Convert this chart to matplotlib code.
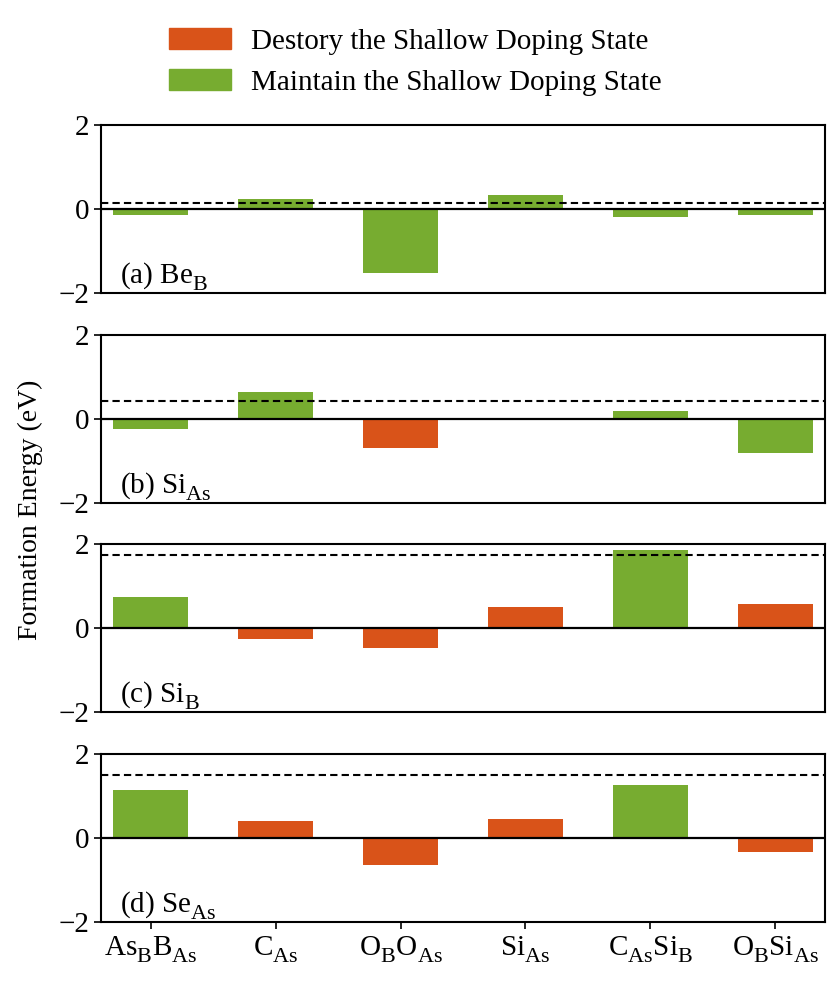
import numpy as np
import matplotlib
matplotlib.use("Agg")
import matplotlib.pyplot as plt
from matplotlib.patches import Patch
import matplotlib._mathtext as _mt

plt.rcParams['font.family'] = ['Liberation Serif', 'DejaVu Serif']
plt.rcParams['mathtext.fontset'] = 'custom'
plt.rcParams['mathtext.rm'] = 'Liberation Serif'
plt.rcParams['mathtext.it'] = 'Liberation Serif:italic'
plt.rcParams['mathtext.bf'] = 'Liberation Serif:bold'


# Larger, lower subscripts (Word/Times-like look)
class _SerifConsts(_mt.FontConstantsBase):
    sub1 = 0.55
    subdrop = 0.5


_mt._font_constant_mapping['Liberation Serif'] = _SerifConsts
_mt.SHRINK_FACTOR = 0.76

categories = [r'As$_\mathrm{B}$B$_\mathrm{As}$', r'C$_\mathrm{As}$', r'O$_\mathrm{B}$O$_\mathrm{As}$',
              r'Si$_\mathrm{As}$', r'C$_\mathrm{As}$Si$_\mathrm{B}$', r'O$_\mathrm{B}$Si$_\mathrm{As}$']

panel_labels = [r'(a) Be$_\mathrm{B}$', r'(b) Si$_\mathrm{As}$', r'(c) Si$_\mathrm{B}$', r'(d) Se$_\mathrm{As}$']

vals_a = [-0.14, 0.25, -1.53, 0.33, -0.18, -0.15]
vals_b = [-0.24, 0.65, -0.70, 0.0, 0.19, -0.82]
vals_c = [0.75, -0.27, -0.47, 0.50, 1.85, 0.57]
vals_d = [1.14, 0.41, -0.65, 0.45, 1.27, -0.33]

# 'M' = maintain (green), 'D' = destroy (orange)
state_a = ['M', 'M', 'M', 'M', 'M', 'M']
state_b = ['M', 'M', 'D', 'M', 'M', 'M']
state_c = ['M', 'D', 'D', 'D', 'M', 'D']
state_d = ['M', 'D', 'D', 'D', 'M', 'D']

dashed_levels = [0.15, 0.42, 1.75, 1.49]

legend_labels = ['Destory the Shallow Doping State', 'Maintain the Shallow Doping State']
ylabel = 'Formation Energy (eV)'

ORANGE = '#D95319'
GREEN = '#77AC30'
cmap = {'D': ORANGE, 'M': GREEN}

W, H = 831, 986
fig = plt.figure(figsize=(W / 100, H / 100), dpi=100)

left, right = 101 / W, 825 / W
tops = [125, 335, 544, 754]
ph = 168

all_vals = [vals_a, vals_b, vals_c, vals_d]
all_states = [state_a, state_b, state_c, state_d]
fs = 21
tfs = 21
x = np.arange(len(categories))
for i in range(4):
    bottom = 1 - (tops[i] + ph) / H
    ax = fig.add_axes([left, bottom, right - left, ph / H])
    ax.bar(x, all_vals[i], width=0.6, color=[cmap[s] for s in all_states[i]], linewidth=0)
    ax.axhline(0, color='black', lw=1.6, zorder=3)
    ax.axhline(dashed_levels[i], color='black', lw=1.5, ls=(0, (3.5, 2)), zorder=3)
    ax.set_xlim(-0.4, 5.4)
    ax.set_ylim(-2, 2)
    ax.set_yticks([-2, 0, 2])
    ax.set_xticks(x)
    for s in ax.spines.values():
        s.set_linewidth(1.5)
    ax.tick_params(axis='y', labelsize=tfs, width=1.2, length=5)
    ax.tick_params(axis='x', labelsize=fs, width=1.2, length=5)
    if i < 3:
        ax.set_xticklabels([])
        ax.tick_params(axis='x', length=0)
    else:
        ax.set_xticklabels(categories)
    ax.text(0.026, 10 / ph, panel_labels[i], transform=ax.transAxes, fontsize=fs,
            ha='left', va='baseline', zorder=5)

fig.text(30 / W, 1 - 510 / H, ylabel, rotation=90, fontsize=20, ha='center', va='center')

handles = [Patch(color=ORANGE), Patch(color=GREEN)]
fig.legend(handles, legend_labels, loc='upper center', bbox_to_anchor=(0.5, 1 - 2 / H),
           frameon=False, fontsize=fs, handlelength=2.1, handleheight=0.7, labelspacing=0.5,
           handletextpad=0.7)

fig.savefig('out.png', dpi=100)
